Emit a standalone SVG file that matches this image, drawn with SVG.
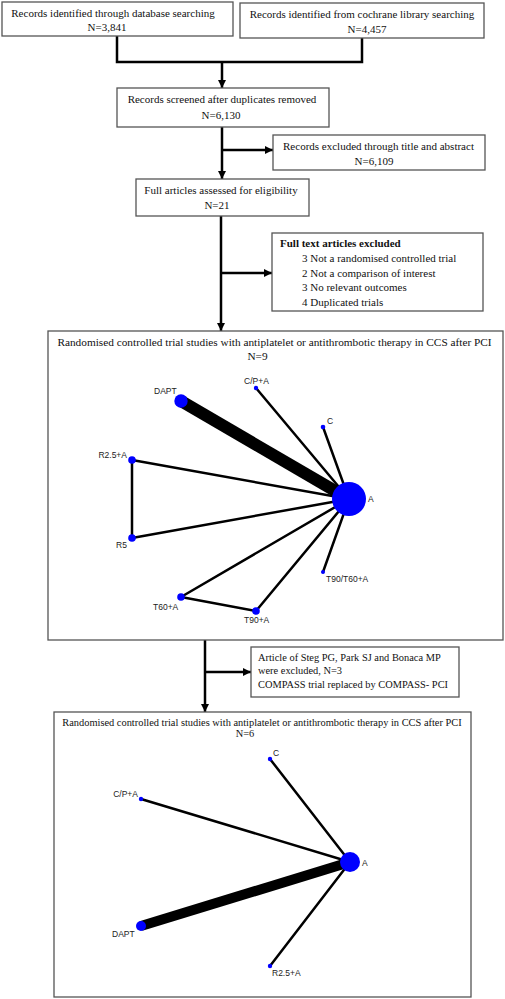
<svg xmlns="http://www.w3.org/2000/svg" width="505" height="999" viewBox="0 0 505 999">
<style>
.box{fill:#fff;stroke:#555;stroke-width:1.3}
.t{font-family:"Liberation Serif","Times New Roman",serif;font-size:11px;fill:#111}
.c{text-anchor:middle}
.b{font-weight:bold}
.s{font-size:10.4px}
.con{fill:none;stroke:#000;stroke-width:2.5}
.e{stroke:#000;stroke-width:2.5;stroke-linecap:round}
.n{fill:#0000ff}
.l{font-family:"Liberation Sans",Arial,sans-serif;font-size:8.5px;fill:#222}
</style>
<defs>
<marker id="ar" markerUnits="userSpaceOnUse" markerWidth="10" markerHeight="10" refX="8" refY="4" orient="auto">
<path d="M0,0 L8,4 L0,8 Z" fill="#000"/>
</marker>
</defs>
<rect width="505" height="999" fill="#fff"/>
<g id="connectors">
<path class="con" d="M117,36 V62 H362 V38"/>
<path class="con" d="M222,62 V88" marker-end="url(#ar)"/>
<path class="con" d="M222,127 V179" marker-end="url(#ar)"/>
<path class="con" d="M222,150 H273" marker-end="url(#ar)"/>
<path class="con" d="M221,216 V331" marker-end="url(#ar)"/>
<path class="con" d="M221,273 H272" marker-end="url(#ar)"/>
<path class="con" d="M205,640 V712" marker-end="url(#ar)"/>
<path class="con" d="M205,672 H251" marker-end="url(#ar)"/>
</g>
<g id="box1"><rect class="box" x="2" y="2" width="231" height="34"/>
<text class="t c" x="113" y="17">Records identified through database searching</text>
<text class="t c" x="107" y="31">N=3,841</text></g>
<g id="box2"><rect class="box" x="240" y="3" width="244" height="35"/>
<text class="t c" x="362" y="18">Records identified from cochrane library searching</text>
<text class="t c" x="367" y="33">N=4,457</text></g>
<g id="box3"><rect class="box" x="117" y="88" width="212" height="39"/>
<text class="t c" x="222" y="103">Records screened after duplicates removed</text>
<text class="t c" x="221" y="119">N=6,130</text></g>
<g id="box4"><rect class="box" x="273" y="135" width="212" height="35"/>
<text class="t c" x="378.5" y="150">Records excluded through title and abstract</text>
<text class="t c" x="374" y="165">N=6,109</text></g>
<g id="box5"><rect class="box" x="136" y="179" width="173" height="37"/>
<text class="t c" x="221" y="194">Full articles assessed for eligibility</text>
<text class="t c" x="217" y="209">N=21</text></g>
<g id="box6"><rect class="box" x="272" y="233" width="211" height="78"/>
<text class="t b" x="280" y="247">Full text articles excluded</text>
<text class="t" x="302" y="262">3 Not a randomised controlled trial</text>
<text class="t" x="302" y="277">2 Not a comparison of interest</text>
<text class="t" x="302" y="291">3 No relevant outcomes</text>
<text class="t" x="302" y="306">4 Duplicated trials</text></g>
<g id="box7"><rect class="box" x="48" y="331" width="455" height="309"/>
<text class="t c" x="274.5" y="346" style="font-size:11.3px">Randomised controlled trial studies with antiplatelet or antithrombotic therapy in CCS after PCI</text>
<text class="t c" x="257.5" y="360" style="font-size:11.3px">N=9</text></g>
<g id="network1">
<line class="e" x1="181" y1="401" x2="349" y2="499" style="stroke-width:12;stroke-linecap:butt"/>
<line class="e" x1="256" y1="388" x2="349" y2="499"/>
<line class="e" x1="323" y1="427" x2="349" y2="499"/>
<line class="e" x1="132" y1="460" x2="349" y2="499"/>
<line class="e" x1="132" y1="460" x2="132" y2="538"/>
<line class="e" x1="132" y1="538" x2="349" y2="499"/>
<line class="e" x1="181" y1="597" x2="349" y2="499"/>
<line class="e" x1="256" y1="611" x2="349" y2="499"/>
<line class="e" x1="181" y1="597" x2="256" y2="611"/>
<line class="e" x1="323" y1="572" x2="349" y2="499"/>
<g id="n1-DAPT"><circle class="n" cx="181" cy="401" r="6.7"/><text class="l" x="154" y="394">DAPT</text></g>
<g id="n1-CPA"><circle class="n" cx="256" cy="388" r="2.2"/><text class="l" x="244" y="384">C/P+A</text></g>
<g id="n1-C"><circle class="n" cx="323" cy="427" r="2.3"/><text class="l" x="327" y="424">C</text></g>
<g id="n1-R25A"><circle class="n" cx="132" cy="460" r="3.8"/><text class="l" x="127" y="458" text-anchor="end">R2.5+A</text></g>
<g id="n1-A"><circle class="n" cx="349" cy="499" r="17"/><text class="l" x="368" y="502">A</text></g>
<g id="n1-R5"><circle class="n" cx="132" cy="538" r="3.8"/><text class="l" x="116" y="548">R5</text></g>
<g id="n1-T90T60A"><circle class="n" cx="323" cy="572" r="2"/><text class="l" x="326" y="582">T90/T60+A</text></g>
<g id="n1-T60A"><circle class="n" cx="181" cy="597" r="3.8"/><text class="l" x="153" y="610">T60+A</text></g>
<g id="n1-T90A"><circle class="n" cx="256" cy="611" r="3.8"/><text class="l" x="244" y="623">T90+A</text></g>
</g>
<g id="box8"><rect class="box" x="251" y="647" width="208" height="50"/>
<text class="t s" x="258" y="661">Article of Steg PG, Park SJ and Bonaca MP</text>
<text class="t s" x="258" y="674">were excluded, N=3</text>
<text class="t s" x="258" y="688">COMPASS trial replaced by COMPASS- PCI</text></g>
<g id="box9"><rect class="box" x="54" y="712" width="417" height="285"/>
<text class="t c s" x="262" y="726">Randomised controlled trial studies with antiplatelet or antithrombotic therapy in CCS after PCI</text>
<text class="t c s" x="245" y="737">N=6</text></g>
<g id="network2">
<line class="e" x1="141" y1="926" x2="350" y2="862" style="stroke-width:10;stroke-linecap:butt"/>
<line class="e" x1="270" y1="759" x2="350" y2="862"/>
<line class="e" x1="141" y1="799" x2="350" y2="862"/>
<line class="e" x1="270" y1="966" x2="350" y2="862"/>
<g id="n2-C"><circle class="n" cx="270" cy="759" r="2.2"/><text class="l" x="273" y="756">C</text></g>
<g id="n2-CPA"><circle class="n" cx="141" cy="799" r="2.2"/><text class="l" x="138" y="797" text-anchor="end">C/P+A</text></g>
<g id="n2-A"><circle class="n" cx="350" cy="862" r="10"/><text class="l" x="362" y="866">A</text></g>
<g id="n2-DAPT"><circle class="n" cx="141" cy="926" r="5"/><text class="l" x="112" y="937">DAPT</text></g>
<g id="n2-R25A"><circle class="n" cx="270" cy="966" r="2.2"/><text class="l" x="272" y="976">R2.5+A</text></g>
</g>
</svg>
